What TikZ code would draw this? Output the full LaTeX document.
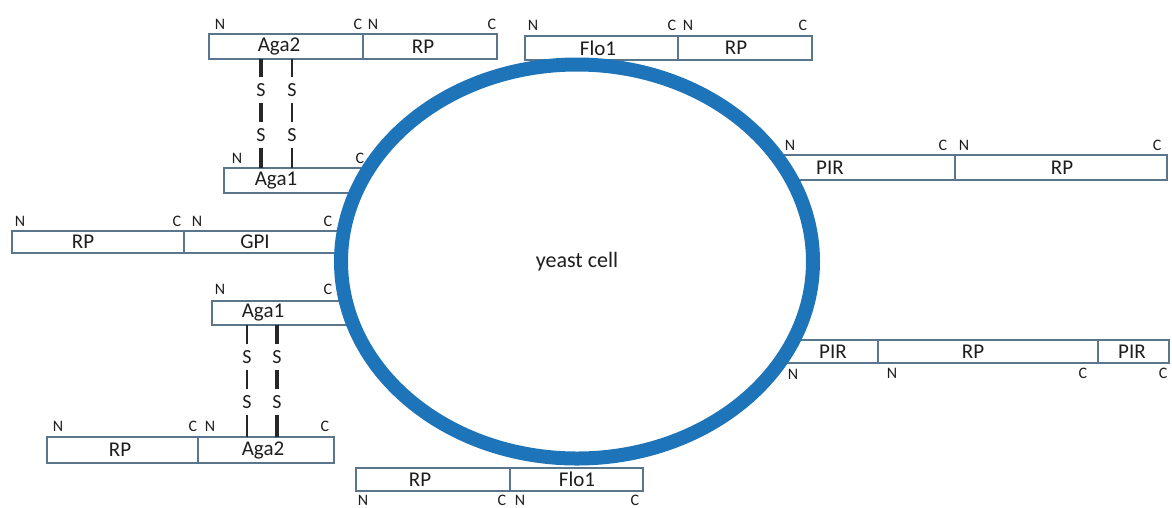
\documentclass[tikz,border=0pt]{standalone}
\usepackage{fontspec}
\setmainfont{Carlito}
\usetikzlibrary{shapes.geometric}
\definecolor{cellblue}{RGB}{30,116,184}
\definecolor{boxc}{RGB}{90,118,140}
\definecolor{txt}{RGB}{30,30,30}
\newcommand{\mkseg}[5]{\node[seg,minimum width={(#4)-(#2)},minimum height={(#5)-(#3)}] (#1) at ({((#2)+(#4))/2},{((#3)+(#5))/2}) {};}
\tikzset{
  seg/.style={draw=boxc,line width=1.6pt,fill=white,rectangle,inner sep=0pt,outer sep=0pt},
  lab/.style={text=txt,font=\fontsize{21}{23}\selectfont,inner sep=0pt},
  nc/.style={text=txt,font=\fontsize{16}{18}\selectfont,inner sep=0pt},
  sat/.style={text=txt,font=\fontsize{20}{22}\selectfont,inner xsep=2pt,inner ysep=6pt},
  bond/.style={draw=black!85,line width=3.2pt},
  cellshape/.style={ellipse,draw=cellblue,line width=14pt,fill=white,inner sep=0pt,
     minimum width=472pt,minimum height=394pt,text=txt,font=\fontsize{22}{24}\selectfont}
}
\begin{document}
\begin{tikzpicture}[x=1pt,y=-1pt]
\useasboundingbox (0,0) rectangle (1172,507);
% boxes
\mkseg{ag2a}{209}{34}{363}{59}
\mkseg{rpa}{363}{34}{497}{59}
\mkseg{floa}{525}{36}{678}{60}
\mkseg{rpb}{678}{36}{812}{60}
\mkseg{pira}{770}{155}{955}{180}
\mkseg{rpc}{955}{155}{1167}{180}
\mkseg{ag1a}{224}{168}{370}{193}
\mkseg{rpd}{12}{231}{184}{253}
\mkseg{gpi}{184}{231}{356}{253}
\mkseg{ag1b}{212}{301}{356}{325}
\mkseg{rpe}{47}{437}{198}{463}
\mkseg{ag2b}{198}{437}{334}{463}
\mkseg{rpf}{356}{468}{510}{491}
\mkseg{flob}{510}{468}{643}{491}
\mkseg{pirb}{770}{340}{878}{363}
\mkseg{rpg}{878}{340}{1098}{363}
\mkseg{pirc}{1098}{340}{1169}{363}
% cell
\node[cellshape] (cell) at (577,261.5) {yeast cell};
% box labels
\node[lab] (t1) at (279,46.5) {Aga2};
\node[lab] (t2) at (423,46.5) {RP};
\node[lab] (t3) at (598,48) {Flo1};
\node[lab] (t4) at (736,48) {RP};
\node[lab] (t5) at (830,167.5) {PIR};
\node[lab] (t6) at (1062,167.5) {RP};
\node[lab] (t7) at (276,180.5) {Aga1};
\node[lab] (t8) at (83,242) {RP};
\node[lab] (t9) at (255,242) {GPI};
\node[lab] (t10) at (263,313) {Aga1};
\node[lab] (t11) at (120,450) {RP};
\node[lab] (t12) at (263,450) {Aga2};
\node[lab] (t13) at (420,479.5) {RP};
\node[lab] (t14) at (577,479.5) {Flo1};
\node[lab] (t15) at (833,351.5) {PIR};
\node[lab] (t16) at (973,351.5) {RP};
\node[lab] (t17) at (1132,351.5) {PIR};
% N / C labels
\node[nc] (n1) at (220,24) {N};   \node[nc] (c1) at (358,24) {C};
\node[nc] (n2) at (373,24) {N};   \node[nc] (c2) at (492,24) {C};
\node[nc] (n3) at (533,25) {N};   \node[nc] (c3) at (672,25) {C};
\node[nc] (n4) at (688,25) {N};   \node[nc] (c4) at (803,25) {C};
\node[nc] (n5) at (790,145) {N};  \node[nc] (c5) at (943,145) {C};
\node[nc] (n6) at (964,145) {N};  \node[nc] (c6) at (1157,145) {C};
\node[nc] (n7) at (237,158) {N};  \node[nc] (c7) at (360,158) {C};
\node[nc] (n8) at (20,221) {N};   \node[nc] (c8) at (177,221) {C};
\node[nc] (n9) at (197,221) {N};  \node[nc] (c9) at (328,221) {C};
\node[nc] (n10) at (220,289) {N}; \node[nc] (c10) at (328,289) {C};
\node[nc] (n11) at (58,426) {N};  \node[nc] (c11) at (193,426) {C};
\node[nc] (n12) at (210,426) {N}; \node[nc] (c12) at (325,426) {C};
\node[nc] (n13) at (363,500) {N}; \node[nc] (c13) at (502,500) {C};
\node[nc] (n14) at (520,500) {N}; \node[nc] (c14) at (635,500) {C};
\node[nc] (n15) at (793,374) {N}; \node[nc] (n16) at (892,373) {N};
\node[nc] (c15) at (1083,373) {C}; \node[nc] (c16) at (1163,373) {C};
% disulfide bonds, top
\node[sat] (s1) at (261,90) {S};  \node[sat] (s2) at (261,135) {S};
\node[sat] (s3) at (292,90) {S};  \node[sat] (s4) at (292,135) {S};
\draw[bond] (s1) -- (s1 |- ag2a.south);
\draw[bond] (s1) -- (s2);
\draw[bond] (s2) -- (s2 |- ag1a.north);
\draw[bond,line width=2.4pt] (s3) -- (s3 |- ag2a.south);
\draw[bond,line width=2.4pt] (s3) -- (s4);
\draw[bond,line width=2.4pt] (s4) -- (s4 |- ag1a.north);
% disulfide bonds, bottom
\node[sat] (s5) at (247,357) {S};  \node[sat] (s6) at (247,402) {S};
\node[sat] (s7) at (277,357) {S};  \node[sat] (s8) at (277,402) {S};
\draw[bond,line width=2.4pt] (s5) -- (s5 |- ag1b.south);
\draw[bond,line width=2.4pt] (s5) -- (s6);
\draw[bond,line width=2.4pt] (s6) -- (s6 |- ag2b.north);
\draw[bond] (s7) -- (s7 |- ag1b.south);
\draw[bond] (s7) -- (s8);
\draw[bond] (s8) -- (s8 |- ag2b.north);
\end{tikzpicture}
\end{document}
